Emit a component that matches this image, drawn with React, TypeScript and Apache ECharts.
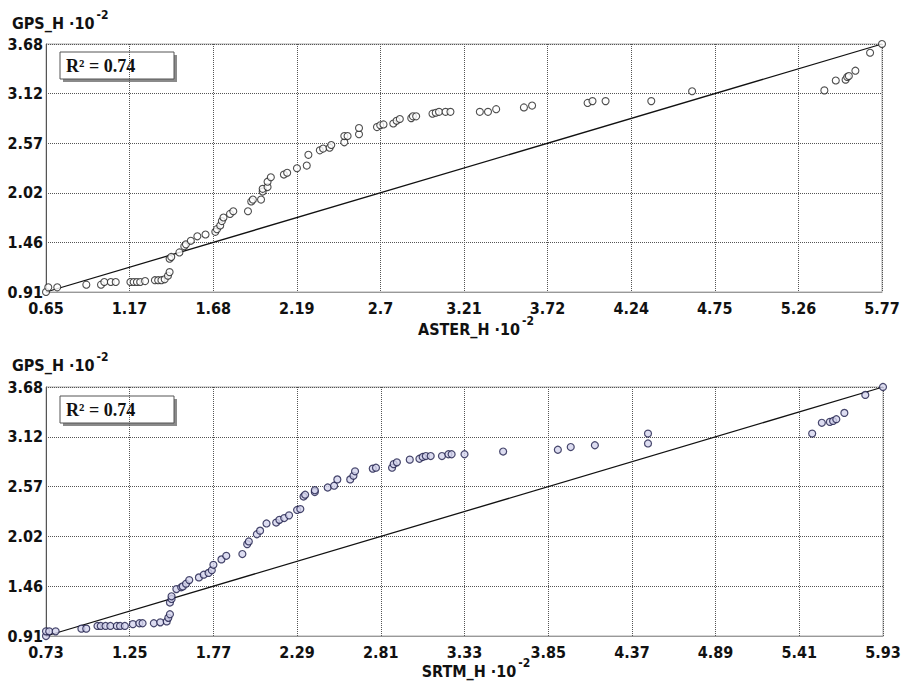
import React, { useEffect, useRef } from "react";
import * as echarts from "echarts";

// ---- data (values in units of 10^2 m) ----
const asterPoints: number[][] = [
  [0.653, 0.908], [0.667, 0.96], [0.722, 0.96], [0.9, 0.99], [0.99, 0.99], [1.01, 1.02], [1.05, 1.02], [1.08, 1.02],
  [1.17, 1.02], [1.19, 1.02], [1.21, 1.02], [1.23, 1.02], [1.26, 1.03], [1.32, 1.04], [1.34, 1.04], [1.36, 1.04],
  [1.38, 1.05], [1.4, 1.09], [1.41, 1.13], [1.41, 1.28], [1.42, 1.3], [1.47, 1.35], [1.5, 1.42], [1.51, 1.44],
  [1.54, 1.48], [1.58, 1.53], [1.63, 1.55], [1.69, 1.58], [1.7, 1.61], [1.72, 1.65], [1.73, 1.7], [1.74, 1.74],
  [1.78, 1.78], [1.8, 1.81], [1.89, 1.81], [1.91, 1.92], [1.92, 1.94], [1.97, 1.94], [1.98, 2.03], [1.98, 2.06],
  [2.01, 2.08], [2.01, 2.14], [2.03, 2.19], [2.11, 2.22], [2.13, 2.24], [2.19, 2.29], [2.25, 2.32], [2.26, 2.44],
  [2.33, 2.49], [2.35, 2.51], [2.39, 2.52], [2.4, 2.55], [2.48, 2.58], [2.48, 2.65], [2.5, 2.65], [2.57, 2.67],
  [2.57, 2.74], [2.68, 2.75], [2.7, 2.77], [2.72, 2.78], [2.78, 2.79], [2.8, 2.82], [2.82, 2.84], [2.89, 2.85],
  [2.9, 2.87], [2.92, 2.87], [3.02, 2.9], [3.04, 2.91], [3.06, 2.92], [3.1, 2.92], [3.13, 2.92], [3.31, 2.92],
  [3.36, 2.92], [3.41, 2.95], [3.58, 2.97], [3.63, 2.99], [3.97, 3.02], [4.0, 3.04], [4.08, 3.04], [4.36, 3.04],
  [4.61, 3.15], [5.42, 3.16], [5.49, 3.27], [5.55, 3.28], [5.56, 3.31], [5.57, 3.32], [5.61, 3.38], [5.7, 3.58],
  [5.773, 3.678],
];

const srtmPoints: number[][] = [
  [0.73, 0.908], [0.73, 0.96], [0.75, 0.96], [0.79, 0.96], [0.95, 0.99], [0.98, 0.99],
  [1.05, 1.02], [1.07, 1.02], [1.1, 1.02], [1.13, 1.02], [1.17, 1.02], [1.19, 1.02], [1.22, 1.02],
  [1.27, 1.04], [1.31, 1.05], [1.33, 1.05], [1.4, 1.05], [1.44, 1.06], [1.48, 1.07],
  [1.49, 1.11], [1.5, 1.15], [1.5, 1.28], [1.51, 1.32], [1.51, 1.35],
  [1.54, 1.43], [1.57, 1.45], [1.58, 1.46], [1.6, 1.49], [1.62, 1.53],
  [1.68, 1.56], [1.71, 1.59], [1.74, 1.61], [1.76, 1.64], [1.77, 1.7],
  [1.82, 1.76], [1.85, 1.8], [1.95, 1.82], [1.98, 1.93], [1.99, 1.96],
  [2.04, 2.04], [2.06, 2.08], [2.1, 2.16], [2.16, 2.17], [2.18, 2.2], [2.21, 2.22], [2.24, 2.25],
  [2.29, 2.31], [2.31, 2.32], [2.33, 2.46], [2.34, 2.48], [2.4, 2.51], [2.4, 2.53],
  [2.48, 2.56], [2.52, 2.58], [2.54, 2.65], [2.62, 2.65], [2.64, 2.69], [2.65, 2.74],
  [2.76, 2.77], [2.78, 2.78], [2.88, 2.78], [2.89, 2.82], [2.91, 2.84], [2.99, 2.87],
  [3.05, 2.88], [3.07, 2.9], [3.09, 2.91], [3.12, 2.91], [3.19, 2.91], [3.23, 2.93], [3.25, 2.93],
  [3.33, 2.93], [3.57, 2.96], [3.91, 2.98], [3.99, 3.01], [4.14, 3.03], [4.47, 3.05], [4.47, 3.16],
  [5.49, 3.16], [5.55, 3.28], [5.6, 3.29], [5.62, 3.3], [5.64, 3.32], [5.69, 3.39], [5.82, 3.59], [5.93, 3.678],
];

// fitted lines (end points)
const asterFit: number[][] = [[0.653, 0.908], [5.773, 3.678]];
const srtmFit: number[][] = [[0.73, 0.908], [5.93, 3.678]];

// ticks
const asterTickValues = [0.653, 1.165, 1.677, 2.189, 2.701, 3.213, 3.725, 4.237, 4.749, 5.261, 5.773];
const asterTickLabels = ["0.65", "1.17", "1.68", "2.19", "2.7", "3.21", "3.72", "4.24", "4.75", "5.26", "5.77"];
const srtmTickValues = [0.73, 1.25, 1.77, 2.29, 2.81, 3.33, 3.85, 4.37, 4.89, 5.41, 5.93];
const srtmTickLabels = ["0.73", "1.25", "1.77", "2.29", "2.81", "3.33", "3.85", "4.37", "4.89", "5.41", "5.93"];
const gpsTickValues = [0.908, 1.462, 2.016, 2.57, 3.124, 3.678];
const gpsTickLabels = ["0.91", "1.46", "2.02", "2.57", "3.12", "3.68"];

const rSquared = "0.74";

const NARROW = "'Liberation Sans Narrow', 'Arial Narrow', 'DejaVu Sans Condensed', sans-serif";
const SERIF = "'Liberation Serif', 'Times New Roman', serif";

function labelFor(values: number[], labels: string[]) {
  return (v: number) => {
    let best = 0;
    for (let i = 0; i < values.length; i++) {
      if (Math.abs(values[i] - v) < Math.abs(values[best] - v)) best = i;
    }
    return labels[best];
  };
}

const tickFont = { fontFamily: NARROW, fontWeight: "bold" as const, fontSize: 16, color: "#111" };

function xAxisOf(gridIndex: number, values: number[], labels: string[]) {
  return {
    type: "value",
    gridIndex,
    min: values[0],
    max: values[values.length - 1],
    axisLine: { show: true, lineStyle: { color: "#999", width: 1 } },
    axisTick: { show: false, customValues: values },
    axisLabel: { ...tickFont, margin: 8, customValues: values, formatter: labelFor(values, labels) },
    splitLine: { show: true, lineStyle: { color: "#555", width: 1, type: [1, 1] } },
  };
}

function yAxisOf(gridIndex: number) {
  return {
    type: "value",
    gridIndex,
    min: gpsTickValues[0],
    max: gpsTickValues[gpsTickValues.length - 1],
    axisLine: { show: true, lineStyle: { color: "#555", width: 1 } },
    axisTick: { show: false, customValues: gpsTickValues },
    axisLabel: { ...tickFont, margin: 3, customValues: gpsTickValues, formatter: labelFor(gpsTickValues, gpsTickLabels) },
    splitLine: { show: true, lineStyle: { color: "#555", width: 1, type: [1, 1] } },
  };
}

function axisTitle(x: number, y: number, name: string, align: "left" | "center") {
  return {
    type: "text",
    x,
    y,
    style: {
      text: `{a|${name} ·10}{b|-2}`,
      align,
      verticalAlign: "middle",
      rich: {
        a: { fontFamily: NARROW, fontWeight: "bold", fontSize: 16, fill: "#111", lineHeight: 22, verticalAlign: "bottom" },
        b: { fontFamily: NARROW, fontWeight: "bold", fontSize: 12, fill: "#111", lineHeight: 22, verticalAlign: "top", padding: [0, 0, 0, 2] },
      },
    },
  };
}

function rBox(x: number, y: number) {
  return [
    { type: "rect", shape: { x: x + 3, y: y + 3, width: 114, height: 27 }, style: { fill: "#8a8a8a" } },
    { type: "rect", shape: { x, y, width: 114, height: 27 }, style: { fill: "#fff", stroke: "#555", lineWidth: 1 } },
    {
      type: "text",
      x: x + 6,
      y: y + 14,
      style: { text: `R² = ${rSquared}`, fontFamily: SERIF, fontWeight: "bold", fontSize: 18, fill: "#111", verticalAlign: "middle" },
    },
  ];
}

export default function App() {
  const ref = useRef<HTMLDivElement>(null);
  useEffect(() => {
    if (!ref.current) return;
    const chart = echarts.init(ref.current, null, { renderer: "svg" });
    chart.setOption({
      animation: false,
      backgroundColor: "#fff",
      grid: [
        { left: 46, top: 44, width: 836, height: 248, show: true, borderColor: "#aaa", borderWidth: 1 },
        { left: 46, top: 387, width: 837, height: 249, show: true, borderColor: "#aaa", borderWidth: 1 },
      ],
      xAxis: [xAxisOf(0, asterTickValues, asterTickLabels), xAxisOf(1, srtmTickValues, srtmTickLabels)],
      yAxis: [yAxisOf(0), yAxisOf(1)],
      series: [
        {
          type: "line",
          xAxisIndex: 0,
          yAxisIndex: 0,
          data: asterFit,
          symbol: "none",
          lineStyle: { color: "#111", width: 1.3 },
          z: 3,
        },
        {
          type: "scatter",
          xAxisIndex: 0,
          yAxisIndex: 0,
          data: asterPoints,
          symbol: "circle",
          symbolSize: 7,
          itemStyle: { color: "#fff", borderColor: "#222", borderWidth: 1.1 },
          z: 4,
        },
        {
          type: "line",
          xAxisIndex: 1,
          yAxisIndex: 1,
          data: srtmFit,
          symbol: "none",
          lineStyle: { color: "#111", width: 1.3 },
          z: 3,
        },
        {
          type: "scatter",
          xAxisIndex: 1,
          yAxisIndex: 1,
          data: srtmPoints,
          symbol: "circle",
          symbolSize: 7,
          itemStyle: { color: "#d4d4ee", borderColor: "#1c1c48", borderWidth: 1.2 },
          z: 4,
        },
      ],
      graphic: [
        axisTitle(12, 20, "GPS_H", "left"),
        axisTitle(476, 326, "ASTER_H", "center"),
        axisTitle(12, 362, "GPS_H", "left"),
        axisTitle(476, 668, "SRTM_H", "center"),
        ...rBox(60, 52),
        ...rBox(60, 396),
      ],
    });
    return () => chart.dispose();
  }, []);
  return (
    <div
      ref={ref}
      style={{ position: "fixed", left: 0, top: 0, width: 906, height: 684, background: "#fff" }}
    />
  );
}
